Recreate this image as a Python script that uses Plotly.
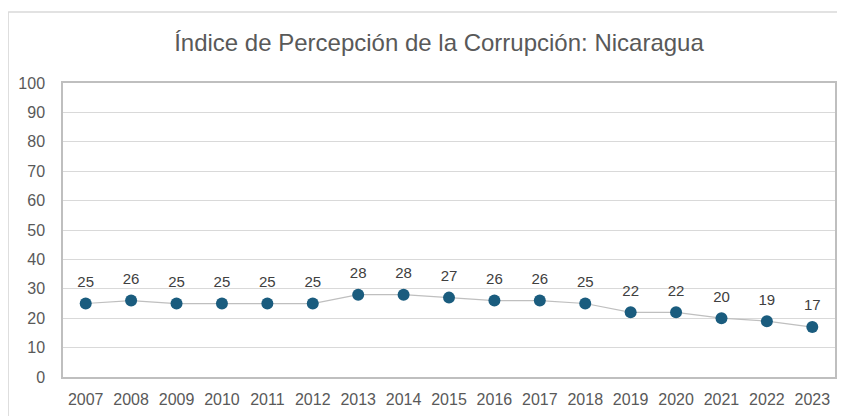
import plotly.graph_objects as go

years = ["2007", "2008", "2009", "2010", "2011", "2012", "2013", "2014", "2015",
         "2016", "2017", "2018", "2019", "2020", "2021", "2022", "2023"]
scores = [25, 26, 25, 25, 25, 25, 28, 28, 27, 26, 26, 25, 22, 22, 20, 19, 17]
y_ticks = [0, 10, 20, 30, 40, 50, 60, 70, 80, 90, 100]
title_text = "Índice de Percepción de la Corrupción: Nicaragua"

FONT = "Liberation Sans, Arial, sans-serif"

fig = go.Figure()
fig.add_trace(go.Scatter(
    x=years, y=scores, mode="lines+markers",
    line=dict(color="#bfbfbf", width=1.25),
    marker=dict(color="#1a5c7e", size=12),
    hoverinfo="x+y", showlegend=False,
))
# data labels (invisible larger marker pushes the text upward)
fig.add_trace(go.Scatter(
    x=years, y=scores, mode="markers+text",
    text=[str(v) for v in scores], textposition="top center",
    textfont=dict(family=FONT, size=15, color="#404040"),
    marker=dict(color="rgba(0,0,0,0)", size=19),
    hoverinfo="skip", showlegend=False,
))

# outer chart border: only top and left edges are inside the picture
fig.add_shape(type="line", xref="paper", yref="paper",
              x0=-0.0711, x1=1.2, y0=1.2415, y1=1.2415,
              line=dict(color="#d9d9d9", width=1.5), layer="below")
fig.add_shape(type="line", xref="paper", yref="paper",
              x0=-0.0711, x1=-0.0711, y0=-0.5, y1=1.2415,
              line=dict(color="#d9d9d9", width=1.5), layer="below")

# the page adds an 8px body margin, so the figure is drawn 8px in from the top-left
fig.update_layout(
    width=837, height=408,
    margin=dict(l=55, r=8, t=75, b=39),
    paper_bgcolor="white", plot_bgcolor="white",
    title=dict(text=title_text, x=0.487, xref="paper", xanchor="center",
               y=1 - 35 / 408, yref="container", yanchor="middle",
               font=dict(family=FONT, size=24, color="#595959")),
    font=dict(family=FONT, color="#595959"),
)
fig.update_xaxes(type="category", range=[-0.5, len(years) - 0.5],
                 showgrid=False, showline=True, linecolor="#bfbfbf", linewidth=1.5,
                 mirror=True, ticks="", tickfont=dict(size=16, color="#595959"),
                 ticklabelstandoff=7)
fig.update_yaxes(range=[0, 100], tickvals=y_ticks, showgrid=True, gridcolor="#d9d9d9",
                 gridwidth=1.2, showline=True, linecolor="#bfbfbf", linewidth=1.5,
                 mirror=True, zeroline=False, ticks="",
                 tickfont=dict(size=16, color="#595959"), ticklabelstandoff=13)

fig.write_html("out.html")
